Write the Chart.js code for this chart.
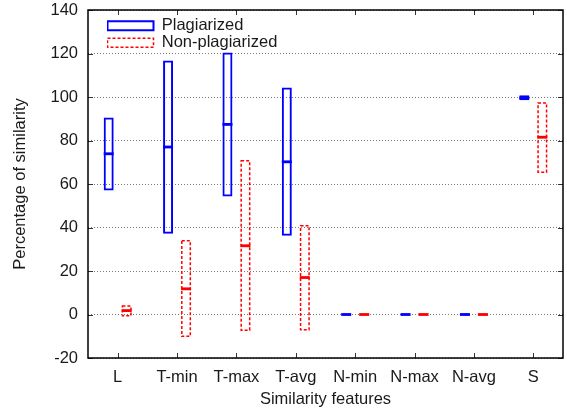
<!doctype html>
<html lang="en">

<head>
  <meta charset="utf-8">
  <title>similarity features</title>
  <meta name="viewport" content="width=device-width, initial-scale=1">

  <style>
    html, body {
      margin: 0;
      padding: 0;
      background: #fff;
    }
    #wrap {
      width: 567px;
      height: 413px;
    }
  </style>
</head>

<body>
  <div id="wrap"><canvas id="chart"></canvas></div>

  <script src="https://cdn.jsdelivr.net/npm/chart.js@4/dist/chart.umd.min.js"></script>
  <script>

  const categories = ['L', 'T-min', 'T-max', 'T-avg', 'N-min', 'N-max', 'N-avg', 'S'];
  const seriesNames = ['Plagiarized', 'Non-plagiarized'];

  const plagLow    = [57.0,  37.1,  54.3,  36.2, 0, 0, 0, 98.5];
  const plagHigh   = [90.6, 116.8, 120.5, 104.4, 0, 0, 0, 100.8];
  const plagMedian = [73.9,  77.0,  87.4,  70.2, 0, 0, 0, 99.6];

  const nonLow    = [-0.9, -10.4, -7.6, -7.4, 0, 0, 0, 65.1];
  const nonHigh   = [ 4.3,  34.2, 71.0, 41.2, 0, 0, 0, 97.6];
  const nonMedian = [ 1.8,  11.8, 31.6, 17.0, 0, 0, 0, 81.5];

  const yMin = -20;
  const yMax = 140;
  const yStep = 20;

  const BLUE = '#0000ff';
  const RED = '#ff0000';
  const INK = '#1a1a1a';
  const FONT = 'Liberation Sans, Arial, Helvetica, sans-serif';
  const FSIZE = 16.5;
  const MEDIAN_HALF = 0.65;

  function ranges(lo, hi) {
    return lo.map((v, i) => [v, hi[i]]);
  }

  function medianBars(med) {
    return med.map(m => [m - MEDIAN_HALF, m + MEDIAN_HALF]);
  }

  // gnuplot style dashed outline for the non-plagiarized boxes
  const dashedBoxes = {
    id: 'dashedBoxes',
    afterDatasetDraw(chart, args) {
      if (args.index !== 1) return;
      let ctx = chart.ctx;
      ctx.save();
      ctx.strokeStyle = RED;
      ctx.lineWidth = 1.5;
      ctx.setLineDash([3, 2]);
      args.meta.data.forEach(el => {
        let p = el.getProps(['x', 'y', 'base', 'width'], true);
        let top = Math.min(p.y, p.base);
        let h = Math.abs(p.base - p.y);
        if (h < 1) return;
        ctx.strokeRect(p.x - p.width / 2 + 0.75, top + 0.75, p.width - 1.5, h - 1.5);
      });
      ctx.restore();
    }
  };

  // full border and inward tick marks on all four sides
  const frame = {
    id: 'frame',
    afterLayout(chart) {
      let lg = chart.legend;
      if (lg) {
        lg.left = chart.chartArea.left + 19;
        lg.top = chart.chartArea.top + 7;
      }
    },
    afterDraw(chart) {
      let ctx = chart.ctx;
      let a = chart.chartArea;
      let xs = chart.scales.x;
      let ys = chart.scales.y;
      ctx.save();
      ctx.strokeStyle = '#333';
      ctx.lineWidth = 1;
      ctx.setLineDash([]);
      ctx.beginPath();
      xs.ticks.forEach((t, i) => {
        let px = Math.round(xs.getPixelForTick(i)) + 0.5;
        ctx.moveTo(px, a.bottom); ctx.lineTo(px, a.bottom - 5);
        ctx.moveTo(px, a.top); ctx.lineTo(px, a.top + 5);
      });
      ys.ticks.forEach((t, i) => {
        let py = Math.round(ys.getPixelForTick(i)) + 0.5;
        ctx.moveTo(a.left, py); ctx.lineTo(a.left + 5, py);
        ctx.moveTo(a.right, py); ctx.lineTo(a.right - 5, py);
      });
      ctx.stroke();
      ctx.strokeStyle = '#000';
      ctx.lineWidth = 1.5;
      ctx.strokeRect(a.left, a.top, a.right - a.left, a.bottom - a.top);
      ctx.restore();
    }
  };

  function plot(canvas) {
    let ctx = canvas.getContext('2d');

    let chart = new Chart(ctx, {
      type: 'bar',
      data: {
        labels: categories,
        datasets: [
          {
            label: seriesNames[0],
            data: ranges(plagLow, plagHigh),
            stack: 'p',
            backgroundColor: 'rgba(0,0,0,0)',
            borderColor: BLUE,
            borderWidth: 2,
            borderSkipped: false
          },
          {
            label: seriesNames[1],
            data: ranges(nonLow, nonHigh),
            stack: 'n',
            backgroundColor: 'rgba(0,0,0,0)',
            borderWidth: 0
          },
          {
            label: 'plag median',
            data: medianBars(plagMedian),
            stack: 'p',
            backgroundColor: BLUE,
            borderWidth: 0
          },
          {
            label: 'non median',
            data: medianBars(nonMedian),
            stack: 'n',
            backgroundColor: RED,
            borderWidth: 0
          }
        ]
      },
      options: {
        responsive: true,
        maintainAspectRatio: false,
        animation: false,
        categoryPercentage: 0.606,
        barPercentage: 0.556,
        layout: {
          padding: { top: 0, right: 4, left: 0, bottom: 0 }
        },
        plugins: {
          tooltip: { enabled: false },
          legend: {
            position: 'chartArea',
            align: 'start',
            labels: {
              boxWidth: 46,
              boxHeight: 9,
              padding: 0.5,
              color: INK,
              font: { family: FONT, size: FSIZE },
              generateLabels: () => [
                { text: seriesNames[0], fillStyle: 'rgba(0,0,0,0)', strokeStyle: BLUE,
                  lineWidth: 2, lineDash: [], datasetIndex: 0, fontColor: INK },
                { text: seriesNames[1], fillStyle: 'rgba(0,0,0,0)', strokeStyle: RED,
                  lineWidth: 1.5, lineDash: [3, 2], datasetIndex: 1, fontColor: INK }
              ]
            }
          }
        },
        scales: {
          x: {
            grid: { display: false },
            border: { display: false },
            ticks: {
              color: INK,
              padding: 2,
              font: { family: FONT, size: FSIZE }
            },
            title: {
              display: true,
              text: 'Similarity features',
              color: INK,
              padding: { top: 3.5, bottom: 3.5 },
              font: { family: FONT, size: FSIZE }
            },
            afterFit(scale) { scale.height = 55; }
          },
          y: {
            min: yMin,
            max: yMax,
            stacked: false,
            grid: {
              color: '#777',
              lineWidth: 1,
              drawTicks: false
            },
            border: { display: false, dash: [1, 2] },
            ticks: {
              stepSize: yStep,
              color: INK,
              padding: 10,
              font: { family: FONT, size: FSIZE }
            },
            title: {
              display: true,
              text: 'Percentage of similarity',
              color: INK,
              padding: { top: 10.5, bottom: 8 },
              font: { family: FONT, size: FSIZE }
            },
            afterFit(scale) {
              scale.width = 88;
              scale.paddingTop = 10;
              scale.paddingBottom = 0;
            }
          }
        }
      },
      plugins: [dashedBoxes, frame]
    });
    return chart;
  }

  plot(document.getElementById('chart'));
  </script>

</body>
</html>
